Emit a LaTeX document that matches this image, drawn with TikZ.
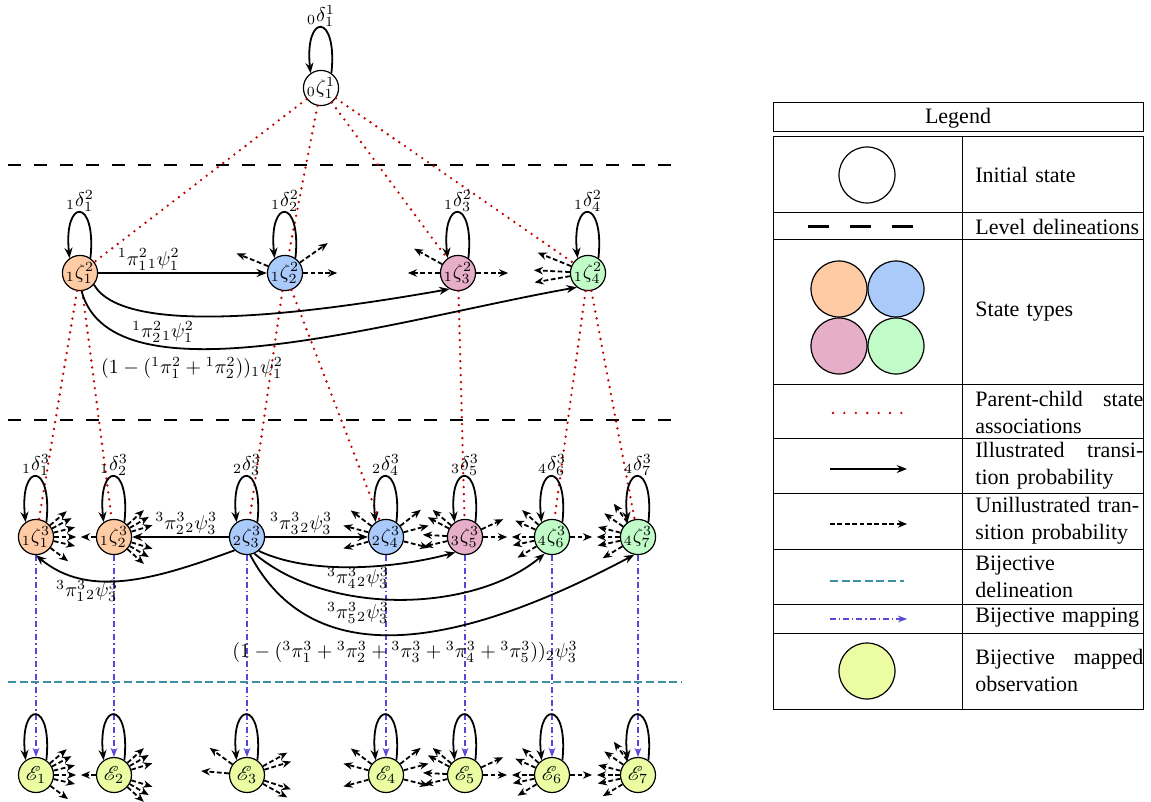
\documentclass[tikz,border=0pt]{standalone}
\usepackage{amsmath,amssymb}
\usepackage{mathrsfs}
\usepackage{fontspec}
\newfontfamily\legendfont{Liberation Serif}
\usepackage{tikz}
\usetikzlibrary{arrows.meta}
\definecolor{hsOrange}{HTML}{FFCBA4}
\definecolor{hsBlue}{HTML}{A9CAFA}
\definecolor{hsPink}{HTML}{E6AEC8}
\definecolor{hsGreen}{HTML}{C1FCC8}
\definecolor{hsYellow}{HTML}{EBFCA3}
\definecolor{hsRed}{HTML}{C00000}
\definecolor{hsTeal}{HTML}{3D8FA3}
\definecolor{hsViolet}{HTML}{5548D6}
\tikzset{
  hs diagram/.style={x=0.5pt, y=0.5pt},
  hs state/.style={circle, draw, line width=0.6pt, minimum size=17.5pt,
    inner sep=0pt, fill=white},
  hs trans/.style={-{Stealth[length=1.8mm,width=1.4mm]}, line width=0.9pt},
  hs loop/.style={hs trans, out=84, in=96, looseness=7.5},
  hs stub/.style={-{Stealth[length=1.6mm,width=1.3mm]}, line width=0.9pt,
    dash pattern=on 2.4pt off 1.3pt},
  hs assoc/.style={draw=hsRed, line width=1.3pt, line cap=round,
    dash pattern=on 0pt off 3.5pt},
  hs level/.style={line width=1pt, dash pattern=on 6.5pt off 6.5pt},
  hs biline/.style={draw=hsTeal, line width=0.8pt, dash pattern=on 4pt off 1.8pt},
  hs bimap/.style={draw=hsViolet, line width=0.6pt,
    dash pattern=on 3pt off 1.5pt on 0.6pt off 1.5pt,
    -{Stealth[length=1.6mm,width=1.2mm]}},
  hs label/.style={inner sep=1pt},
  hs loop label/.style={above, inner sep=0pt},
  hs legend/.style={font=\legendfont\fontsize{11}{13.5}\selectfont},
  hs legend text/.style={hs legend, align=left, text width=84pt,
    inner sep=0pt, anchor=west}
}

\begin{document}
\begin{tikzpicture}[hs diagram]
\useasboundingbox (0,0) rectangle (1151,-802);
% level delineations
\draw[hs level] (8,-165) -- (682,-165);
\draw[hs level] (8,-420) -- (682,-420);
\draw[hs biline] (8,-682) -- (682,-682);

% states
\node[hs state] (z1) at (321,-88) {${}_{0}\zeta^{1}_{1}$};
\node[hs state,fill=hsOrange] (z21) at (80,-273) {${}_{1}\zeta^{2}_{1}$};
\node[hs state,fill=hsBlue] (z22) at (285,-273) {${}_{1}\zeta^{2}_{2}$};
\node[hs state,fill=hsPink] (z23) at (458,-273) {${}_{1}\zeta^{2}_{3}$};
\node[hs state,fill=hsGreen] (z24) at (588,-273) {${}_{1}\zeta^{2}_{4}$};
\node[hs state,fill=hsOrange] (z31) at (36,-537) {${}_{1}\zeta^{3}_{1}$};
\node[hs state,fill=hsOrange] (z32) at (114,-537) {${}_{1}\zeta^{3}_{2}$};
\node[hs state,fill=hsBlue] (z33) at (247,-537) {${}_{2}\zeta^{3}_{3}$};
\node[hs state,fill=hsBlue] (z34) at (386,-537) {${}_{2}\zeta^{3}_{4}$};
\node[hs state,fill=hsPink] (z35) at (465,-537) {${}_{3}\zeta^{3}_{5}$};
\node[hs state,fill=hsGreen] (z36) at (552,-537) {${}_{4}\zeta^{3}_{6}$};
\node[hs state,fill=hsGreen] (z37) at (638,-537) {${}_{4}\zeta^{3}_{7}$};
\foreach \k/\x in {1/36,2/114,3/247,4/386,5/465,6/552,7/638}
  \node[hs state,fill=hsYellow] (e\k) at (\x,-775) {$\mathscr{E}_{\k}$};

% parent-child associations
\foreach \k in {1,...,4} \draw[hs assoc] (z1) -- (z2\k);
\draw[hs assoc] (z21) -- (z31);
\draw[hs assoc] (z21) -- (z32);
\draw[hs assoc] (z22) -- (z33);
\draw[hs assoc] (z22) -- (z34);
\draw[hs assoc] (z23) -- (z35);
\draw[hs assoc] (z24) -- (z36);
\draw[hs assoc] (z24) -- (z37);

% bijective mapping
\foreach \k in {1,...,7} \draw[hs bimap] (z3\k) -- (e\k);

% self transitions
\draw[hs loop] (z1.55) to node[hs loop label] (d1) {${}_{0}\delta^{1}_{1}$} (z1.125);
\foreach \k in {1,...,4}
  \draw[hs loop] (z2\k.55) to node[hs loop label] (d2\k) {${}_{1}\delta^{2}_{\k}$} (z2\k.125);
\foreach \k/\p in {1/1,2/1,3/2,4/2,5/3,6/4,7/4}
  \draw[hs loop] (z3\k.55) to node[hs loop label] (d3\k) {${}_{\p}\delta^{3}_{\k}$} (z3\k.125);
\foreach \k in {1,...,7} \draw[hs loop] (e\k.55) to (e\k.125);

% illustrated transitions, level 2
\draw[hs trans] (z21) -- node[above,hs label,pos=0.3] (t11) {${}^{1}\pi^{2}_{1}{}_{1}\psi^{2}_{1}$} (z22);
\draw[hs trans] (z21.-40) .. controls +(-60:60) and +(190:150) .. (z23.242);
\draw[hs trans] (z21.-85) .. controls +(-75:120) and +(190:180) .. (z24.232);
\node[hs label] (t21) at (163,-332) {${}^{1}\pi^{2}_{2}{}_{1}\psi^{2}_{1}$};
\node[hs label] (t31) at (192,-368) {$(1-({}^{1}\pi^{2}_{1}+{}^{1}\pi^{2}_{2}))_{1}\psi^{2}_{1}$};

% illustrated transitions, level 3
\draw[hs trans] (z33) -- node[above,hs label,pos=0.44] (u22) {${}^{3}\pi^{3}_{2}{}_{2}\psi^{3}_{3}$} (z32);
\draw[hs trans] (z33) -- node[above,hs label,pos=0.35] (u32) {${}^{3}\pi^{3}_{3}{}_{2}\psi^{3}_{3}$} (z34);
\draw[hs trans] (z33.227) .. controls +(200:80) and +(-40:70) .. (z31.-90);
\draw[hs trans] (z33.-50) .. controls +(-25:60) and +(195:60) .. (z35.238);
\draw[hs trans] (z33.-66) .. controls +(-40:100) and +(220:90) .. (z36.246);
\draw[hs trans] (z33.-80) .. controls +(-62:130) and +(208:210) .. (z37.258);
\node[hs label] (u12) at (87,-591) {${}^{3}\pi^{3}_{1}{}_{2}\psi^{3}_{3}$};
\node[hs label] (u42) at (358,-578) {${}^{3}\pi^{3}_{4}{}_{2}\psi^{3}_{3}$};
\node[hs label] (u52) at (358,-613) {${}^{3}\pi^{3}_{5}{}_{2}\psi^{3}_{3}$};
\node[hs label] (u62) at (405,-652) {$(1-({}^{3}\pi^{3}_{1}+{}^{3}\pi^{3}_{2}+{}^{3}\pi^{3}_{3}+{}^{3}\pi^{3}_{4}+{}^{3}\pi^{3}_{5}))_{2}\psi^{3}_{3}$};

% unillustrated transitions
\foreach \a in {158,35,0} \draw[hs stub] (z22.\a) -- ++(\a:34);
\foreach \a in {151,180,0} \draw[hs stub] (z23.\a) -- ++(\a:32);
\foreach \a in {158,177,190} \draw[hs stub] (z24.\a) -- ++(\a:36);
\foreach \a in {40,28,14,0,-13,-37} {
  \draw[hs stub] (z31.\a) -- ++(\a:22);
  \draw[hs stub] (e1.\a) -- ++(\a:22);
}
\foreach \a in {42,30,17,-17,-30,-42} {
  \draw[hs stub] (z32.\a) -- ++(\a:22);
  \draw[hs stub] (e2.\a) -- ++(\a:22);
}
\draw[hs stub] (z32.180) -- ++(180:15);
\draw[hs stub] (e2.180) -- ++(180:15);
\foreach \a in {144,175,29,17,-18,-29} \draw[hs stub] (e3.\a) -- ++(\a:28);
\foreach \a in {143,165,195,38,15,-14} {
  \draw[hs stub] (z34.\a) -- ++(\a:26);
  \draw[hs stub] (e4.\a) -- ++(\a:26);
}
\foreach \a in {140,152,177,193,25,0} {
  \draw[hs stub] (z35.\a) -- ++(\a:24);
  \draw[hs stub] (e5.\a) -- ++(\a:24);
}
\foreach \a in {138,156,180,192,211,0} {
  \draw[hs stub] (z36.\a) -- ++(\a:22);
  \draw[hs stub] (e6.\a) -- ++(\a:22);
}
\foreach \a in {126,145,166,180,192,211} {
  \draw[hs stub] (z37.\a) -- ++(\a:23);
  \draw[hs stub] (e7.\a) -- ++(\a:23);
}

% legend
\draw[line width=0.5pt] (773,-103) rectangle (1143,-132);
\node[hs legend] (lgTitle) at (958,-118) {Legend};
\draw[line width=0.5pt] (773,-137) rectangle (1143,-709);
\draw[line width=0.5pt] (962,-137) -- (962,-709);
\foreach \y in {213,240,384,438,493,549,604,633}
  \draw[line width=0.5pt] (773,-\y) -- (1143,-\y);
\node[hs state,minimum size=28pt] (lgInit) at (867,-175) {};
\draw[line width=1.5pt, dash pattern=on 10.5pt off 10.5pt] (808,-227) -- (915,-227);
\node[hs state,minimum size=28pt,fill=hsOrange] (lgA) at (839,-289) {};
\node[hs state,minimum size=28pt,fill=hsBlue] (lgB) at (896,-289) {};
\node[hs state,minimum size=28pt,fill=hsPink] (lgC) at (839,-346) {};
\node[hs state,minimum size=28pt,fill=hsGreen] (lgD) at (896,-346) {};
\draw[hs assoc, dash pattern=on 0pt off 5.7pt] (833,-413) -- (903,-413);
\draw[hs trans] (830,-469) -- (907,-469);
\draw[hs stub] (830,-524) -- (907,-524);
\draw[hs biline] (830,-581) -- (904,-581);
\draw[hs bimap] (830,-619) -- (907,-619);
\node[hs state,minimum size=28pt,fill=hsYellow] (lgObs) at (867,-671) {};
\node[hs legend text] (lt1) at (975,-175) {Initial state};
\node[hs legend text] (lt2) at (975,-227) {Level delineations};
\node[hs legend text] (lt3) at (975,-312) {State types};
\node[hs legend text] (lt4) at (975,-412) {Parent-child\hfill state\\associations};
\node[hs legend text] (lt5) at (975,-466) {Illustrated\hfill transi-\\tion probability};
\node[hs legend text] (lt6) at (975,-521) {Unillustrated tran-\\sition probability};
\node[hs legend text] (lt7) at (975,-577) {Bijective\\delineation};
\node[hs legend text] (lt8) at (975,-618) {Bijective mapping};
\node[hs legend text] (lt9) at (975,-670) {Bijective\hfill mapped\\observation};
\end{tikzpicture}
\end{document}
